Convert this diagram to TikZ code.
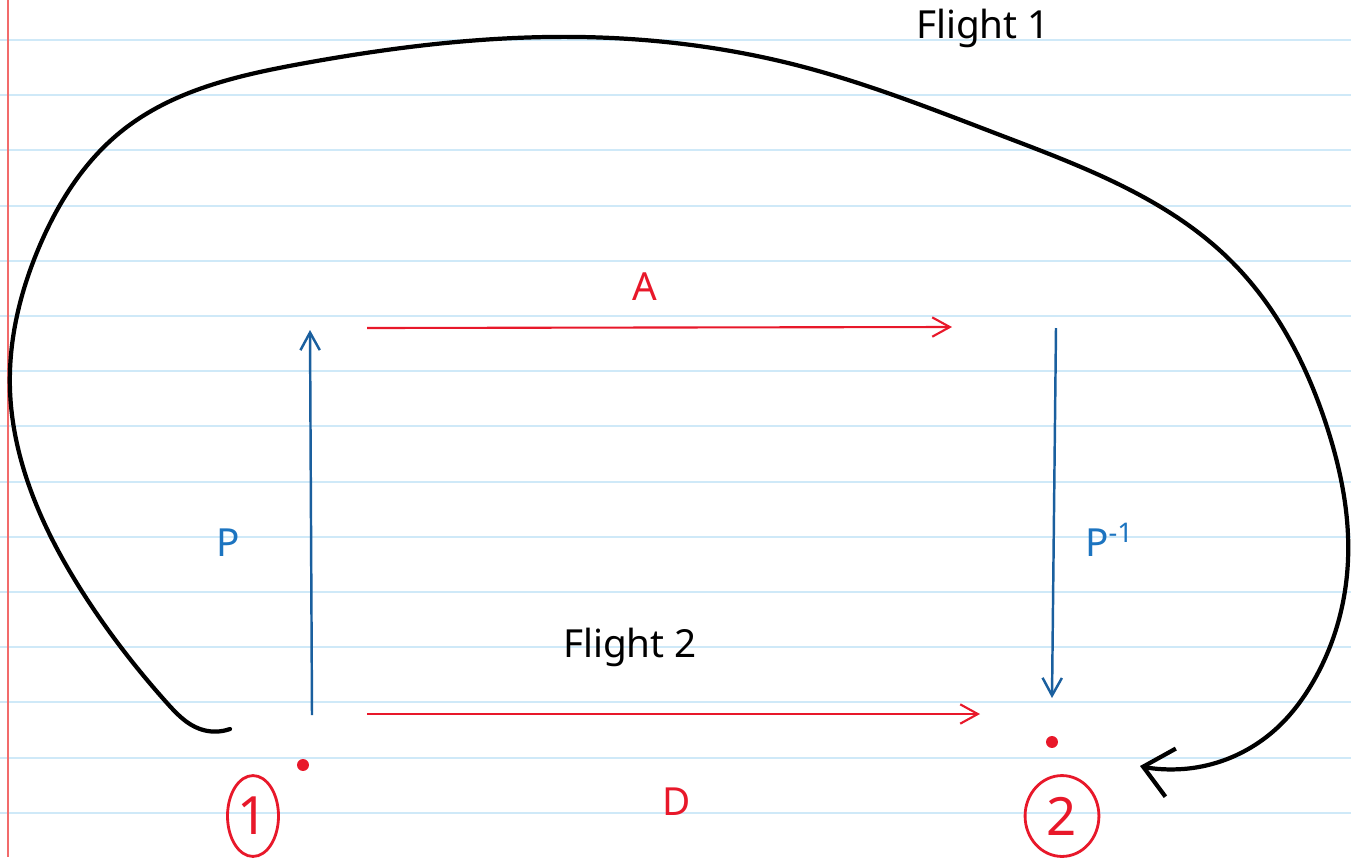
\documentclass[tikz,border=0pt]{standalone}
\usepackage{fontspec}
\setmainfont{Noto Sans}
\usetikzlibrary{arrows.meta, shapes.geometric, hobby}
\definecolor{penred}{HTML}{E8182A}
\definecolor{penblue}{HTML}{1A5F9E}
\definecolor{labelblue}{HTML}{1C74C0}
\definecolor{ruleblue}{HTML}{CFE9F8}
\definecolor{marginred}{HTML}{F26B6B}

\begin{document}
\begin{tikzpicture}[x=0.01cm, y=-0.01cm, >={Straight Barb[length=5pt,width=5.5pt]},
    redarrow/.style={->, penred, line width=0.6pt},
    bluearrow/.style={->, penblue, line width=0.7pt},
    lbl/.style={font=\fontsize{11}{13}\selectfont, inner sep=0pt},
    circled/.style={draw=penred, ellipse, line width=0.8pt, text=penred, inner sep=0pt,
      font=\fontsize{15}{17}\selectfont}]
    \useasboundingbox (0,0) rectangle (1351,857);
    % notebook paper
    \fill[white] (0,0) rectangle (1351,857);
    \foreach \k in {0,...,14}
        \draw[ruleblue, line width=0.6pt] (0,40+55.2*\k) -- (1351,40+55.2*\k);
    \draw[marginred, line width=0.5pt] (8,0) -- (8,857);

    % corners of the square
    \coordinate (pbot) at (312,715);
    \coordinate (ptop) at (310,330);
    \coordinate (aleft) at (367,328);
    \coordinate (aright) at (952,327);
    \coordinate (qtop) at (1056,328);
    \coordinate (qbot) at (1052,698);
    \coordinate (dleft) at (367,714);
    \coordinate (dright) at (980,714);
    \draw[bluearrow] (pbot) -- (ptop);
    \draw[redarrow] (aleft) -- (aright);
    \draw[bluearrow] (qtop) -- (qbot);
    \draw[redarrow] (dleft) -- (dright);

    % labels
    \node[lbl, penred] (labA) at (645,287) {A};
    \node[lbl, labelblue] (labP) at (228,543) {P};
    \node[lbl, labelblue] (labPinv) at (1110,540) {P\textsuperscript{-1}};
    \node[lbl] (flighttwo) at (630,647) {Flight 2};
    \node[lbl] (flightone) at (983,28) {Flight 1};
    \node[lbl, penred] (labD) at (677,802) {D};

    % the two points
    \fill[penred] (303,765) circle (1.7pt);
    \fill[penred] (1052,742) circle (1.7pt);
    \node[circled, minimum width=14.5pt, minimum height=23pt] (one) at (253,816) {1};
    \node[circled, minimum width=21pt, minimum height=23pt] (two) at (1062,816) {2};

    % Flight 1 loop
    \coordinate (fstart) at (230,729);
    \coordinate (fend) at (1140,766);
    \draw[use Hobby shortcut, line width=1.2pt, line cap=round,
          -{Straight Barb[length=8pt,width=14pt]}]
        (fstart) .. (200,729) .. (167,703) .. (83,593) .. (23,467) .. (10,390)
        .. (40,245) .. (123,130) .. (300,64) .. (580,37) .. (800,66)
        .. (1000,135) .. (1230,260) .. (1327,427) .. (1348,560) .. (1310,687)
        .. (1277,728) .. (1183,769) .. (fend);
\end{tikzpicture}
\end{document}
